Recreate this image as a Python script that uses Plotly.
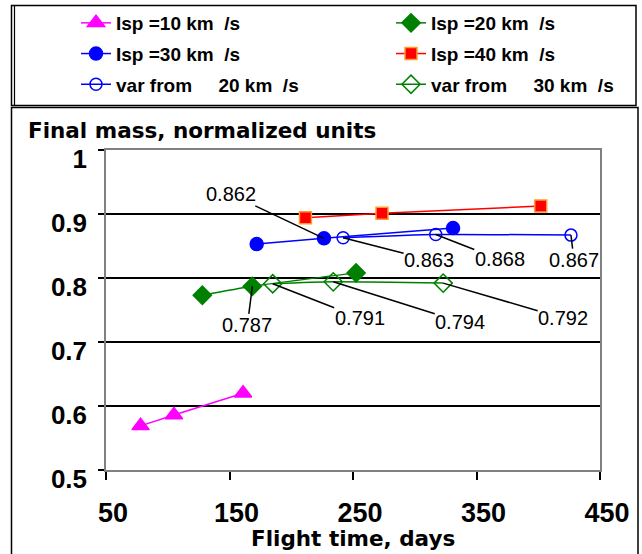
import plotly.graph_objects as go

# ---------------- data ----------------
isp10_x = [78, 105, 161]
isp10_y = [0.569, 0.586, 0.620]
isp20_x = [128, 168.5, 252.5]
isp20_y = [0.773, 0.787, 0.808]
isp30_x = [172, 226.5, 331]
isp30_y = [0.853, 0.862, 0.878]
isp40_x = [211.5, 273.5, 402]
isp40_y = [0.894, 0.901, 0.9125]
var20_x = [242, 317, 426.5]
var20_y = [0.863, 0.868, 0.867]
var30_x = [185, 234, 323]
var30_y = [0.791, 0.794, 0.792]

x_ticks = [50, 150, 250, 350, 450]
y_ticks = [0.5, 0.6, 0.7, 0.8, 0.9, 1.0]
y_tick_text = ["0.5", "0.6", "0.7", "0.8", "0.9", "1"]

NB = "\u00a0"
names = [
    f"Isp{NB}=10 km{NB}{NB}/s",
    f"Isp{NB}=20 km{NB}{NB}/s",
    f"Isp{NB}=30 km{NB}{NB}/s",
    f"Isp{NB}=40 km{NB}{NB}/s",
    f"var from{NB}{NB}{NB}{NB}{NB}20 km{NB}{NB}/s",
    f"var from{NB}{NB}{NB}{NB}{NB}30 km{NB}{NB}/s",
]

# ---------------- layout geometry ----------------
W, H = 642, 554
L, R, T, B = 106, 42, 150, 84
PW, PH = W - L - R, H - T - B

def px(xp):
    return (xp - L) / PW

def py(yp):
    return (H - B - yp) / PH

ARIAL = "Liberation Sans, Arial, sans-serif"
DEJA = "DejaVu Sans, sans-serif"

fig = go.Figure()

def add(x, y, name, color, symbol, size, legend, mline=None, fill=None):
    marker = dict(symbol=symbol, size=size, color=fill if fill else color,
                  line=dict(color=mline if mline else color, width=1.5))
    fig.add_trace(go.Scatter(
        x=x, y=y, name=name, mode="lines+markers",
        line=dict(color=color, width=1.5, shape="spline", smoothing=0.6),
        marker=marker, legend=legend, legendgroup=name,
    ))

add(isp10_x, isp10_y, names[0], "#FF00FF", "triangle-up", 15, "legend")
add(isp30_x, isp30_y, names[2], "#0000FF", "circle", 13, "legend")
add(var20_x, var20_y, names[4], "#0000FF", "circle-open", 12, "legend", fill="#0000FF")
add(isp20_x, isp20_y, names[1], "#008000", "diamond", 14, "legend2")
add(isp40_x, isp40_y, names[3], "#FF0000", "square", 12, "legend2", mline="#FF9933")
add(var30_x, var30_y, names[5], "#008000", "diamond-open", 14, "legend2", fill="#008000")

# value labels with leader lines
labels = [
    (isp30_x[1], isp30_y[1], -93, -44),
    (isp20_x[1], isp20_y[1], -5, 39),
    (var30_x[0], var30_y[0], 87, 34),
    (var30_x[1], var30_y[1], 127, 40),
    (var30_x[2], var30_y[2], 120, 35),
    (var20_x[0], var20_y[0], 86, 22),
    (var20_x[1], var20_y[1], 64, 25),
    (var20_x[2], var20_y[2], 3, 25),
]
for x, y, ax, ay in labels:
    fig.add_annotation(
        x=x, y=y, text=f"{y:.3f}", showarrow=True, arrowhead=0,
        arrowwidth=1.5, arrowcolor="black", ax=ax, ay=ay,
        font=dict(family=ARIAL, size=20, color="black"), borderpad=0,
    )

# x-axis title
fig.add_annotation(
    x=0.5, y=py(538), xref="paper", yref="paper", xanchor="center", yanchor="middle",
    text="Flight time, days", showarrow=False,
    font=dict(family=DEJA, size=21.5, color="black", weight="bold"),
)

shapes = [
    # legend box (double left edge)
    dict(type="rect", xref="paper", yref="paper", x0=px(11.5), x1=px(636),
         y0=py(105.5), y1=py(5.5), line=dict(color="black", width=1.5)),
    dict(type="line", xref="paper", yref="paper", x0=px(14.5), x1=px(14.5),
         y0=py(105.5), y1=py(5.5), line=dict(color="black", width=1.2)),
    # chart frame
    dict(type="rect", xref="paper", yref="paper", x0=px(11.5), x1=px(638),
         y0=py(565), y1=py(107.5), line=dict(color="black", width=1.5)),
]

leg_common = dict(
    orientation="v", bgcolor="rgba(0,0,0,0)", borderwidth=0,
    font=dict(family=ARIAL, size=19, color="black", weight="bold"),
    traceorder="grouped", tracegroupgap=3, xanchor="left", yanchor="top",
    itemclick=False,
)

fig.update_layout(
    width=W, height=H,
    margin=dict(l=L, r=R, t=T, b=B, autoexpand=False),
    paper_bgcolor="white", plot_bgcolor="white",
    showlegend=True,
    legend=dict(x=px(76), y=py(4), **leg_common),
    legend2=dict(x=px(391), y=py(4), **leg_common),
    title=dict(text="Final mass, normalized units", xref="container", yref="container",
               x=28 / W, xanchor="left", y=1 - 130 / H, yanchor="middle",
               font=dict(family=DEJA, size=21.5, color="black", weight="bold")),
    xaxis=dict(
        range=[50, 450], tickvals=x_ticks, ticktext=[str(v) for v in x_ticks],
        showgrid=False, zeroline=False, automargin=False,
        showline=True, linecolor="#808080", linewidth=1.5, mirror=True,
        ticks="outside", ticklen=8, tickwidth=1.5, tickcolor="black",
        tickfont=dict(family=ARIAL, size=27, color="black", weight="bold"),
        ticklabelshift=7, ticklabelstandoff=10,
    ),
    yaxis=dict(
        range=[0.5, 1.0], tickvals=y_ticks, ticktext=y_tick_text,
        showgrid=True, gridcolor="black", gridwidth=1.5, zeroline=False,
        automargin=False,
        showline=True, linecolor="#808080", linewidth=1.5, mirror=True,
        ticks="outside", ticklen=6, tickwidth=1.5, tickcolor="black",
        tickfont=dict(family=ARIAL, size=26, color="black", weight="bold"),
        ticklabelshift=9, ticklabelstandoff=6,
    ),
    shapes=shapes,
)

fig.write_html("out.html", config={"displayModeBar": False},
               post_script="document.body.style.margin='0';")
